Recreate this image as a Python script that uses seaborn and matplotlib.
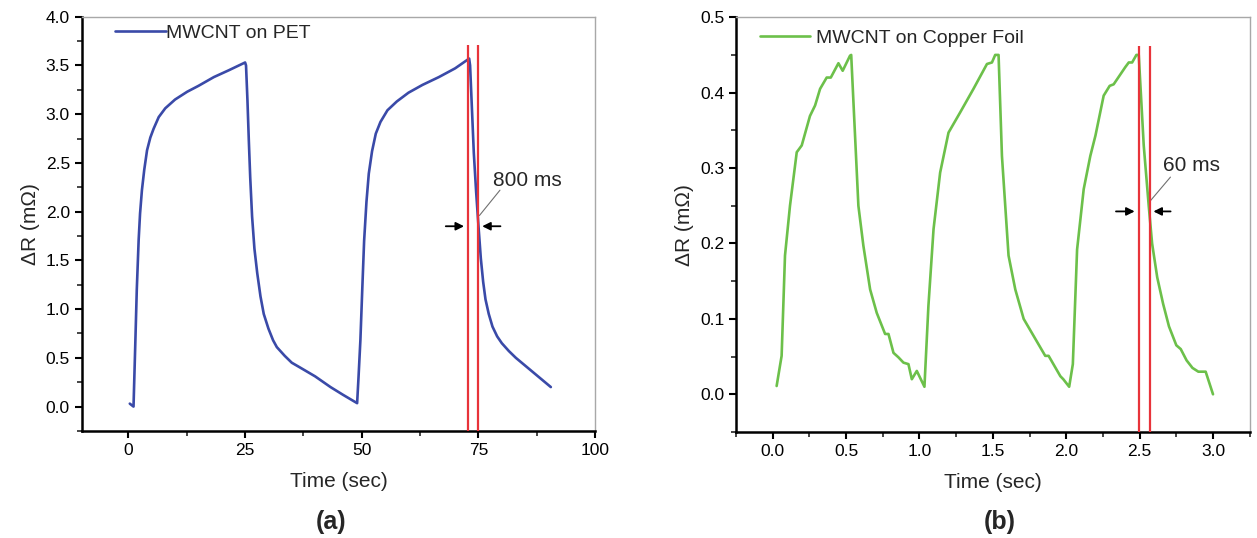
import numpy as np
import matplotlib
matplotlib.use('Agg')
import matplotlib.pyplot as plt
import seaborn as sns
from matplotlib.ticker import MultipleLocator, FormatStrFormatter

# 数据：从原图读取
time_pet = [0.3, 1.1, 1.5, 1.8, 2.2, 2.5, 2.9, 3.4, 4.0, 4.7, 5.4, 6.5, 7.9, 10.0, 12.6, 15.0, 18.3,
            21.5, 25.0, 25.2, 25.5, 25.8, 26.1, 26.5, 27.0, 27.6, 28.3, 29.0, 30.0, 31.0, 31.8, 33.5,
            35.0, 36.8, 40.0, 43.3, 46.0, 49.0, 49.3, 49.7, 50.1, 50.5, 51.0, 51.5, 52.2, 53.0, 54.0,
            55.5, 57.5, 60.0, 63.0, 66.5, 70.0, 73.0, 73.2, 73.6, 74.0, 74.5, 75.0, 75.5, 76.0, 76.5,
            77.2, 78.0, 79.0, 80.0, 81.5, 83.0, 84.5, 86.0, 88.0, 90.5]
dr_pet = [0.03, 0.0, 0.68, 1.20, 1.71, 1.98, 2.22, 2.43, 2.63, 2.76, 2.85, 2.97, 3.06, 3.15, 3.23, 3.29, 3.38,
          3.45, 3.53, 3.50, 3.15, 2.73, 2.35, 1.95, 1.62, 1.37, 1.13, 0.95, 0.80, 0.68, 0.61, 0.52,
          0.45, 0.40, 0.31, 0.20, 0.12, 0.035, 0.30, 0.68, 1.20, 1.70, 2.10, 2.39, 2.62, 2.80, 2.92,
          3.04, 3.13, 3.22, 3.30, 3.38, 3.47, 3.57, 3.50, 3.05, 2.60, 2.20, 1.85, 1.52, 1.28, 1.10,
          0.95, 0.82, 0.72, 0.65, 0.57, 0.50, 0.44, 0.38, 0.30, 0.20]

time_cu = [0.027, 0.061, 0.084, 0.118, 0.164, 0.198, 0.254, 0.289, 0.323, 0.368, 0.396, 0.448, 0.477,
           0.527, 0.535, 0.584, 0.618, 0.664, 0.709, 0.766, 0.789, 0.823, 0.857, 0.891, 0.925, 0.948,
           0.982, 1.034, 1.061, 1.096, 1.141, 1.198, 1.278, 1.368, 1.46, 1.494, 1.516, 1.539, 1.562,
           1.607, 1.653, 1.71, 1.857, 1.88, 1.96, 1.98, 2.02, 2.045, 2.074, 2.119, 2.164, 2.199, 2.255,
           2.296, 2.323, 2.403, 2.426, 2.449, 2.478, 2.494, 2.528, 2.562, 2.585, 2.62, 2.66, 2.70,
           2.75, 2.78, 2.82, 2.86, 2.90, 2.95, 3.0]
dr_cu = [0.011, 0.051, 0.184, 0.25, 0.321, 0.33, 0.369, 0.383, 0.405, 0.42, 0.42, 0.439, 0.429,
         0.449, 0.45, 0.25, 0.197, 0.139, 0.108, 0.08, 0.08, 0.055, 0.049, 0.042, 0.04, 0.02,
         0.031, 0.01, 0.117, 0.219, 0.294, 0.347, 0.374, 0.405, 0.438, 0.44, 0.45, 0.45, 0.316,
         0.184, 0.139, 0.10, 0.051, 0.051, 0.024, 0.02, 0.01, 0.04, 0.192, 0.272, 0.316, 0.343, 0.396,
         0.409, 0.411, 0.434, 0.44, 0.44, 0.45, 0.45, 0.33, 0.25, 0.20, 0.155, 0.12, 0.09,
         0.065, 0.06, 0.045, 0.035, 0.03, 0.03, 0.0]

sns.set_style('ticks')
plt.rcParams['font.family'] = ['Liberation Sans', 'DejaVu Sans']

fig = plt.figure(figsize=(12.57, 5.38), dpi=100)
ax1 = fig.add_axes([0.065, 0.199, 0.4085, 0.770])
ax2 = fig.add_axes([0.5855, 0.197, 0.4087, 0.771])


def style_axes(ax):
    for s in ['left', 'bottom']:
        ax.spines[s].set_color('black')
        ax.spines[s].set_linewidth(1.8)
    for s in ['top', 'right']:
        ax.spines[s].set_visible(True)
        ax.spines[s].set_color('#a8a8a8')
        ax.spines[s].set_linewidth(1.0)
    ax.tick_params(which='major', direction='out', length=5, width=1.5, labelsize=12.5,
                   top=False, right=False, colors='black')
    ax.tick_params(which='minor', direction='out', length=3.5, width=1.2, top=False, right=False)
    ax.set_xlabel('Time (sec)', fontsize=15, labelpad=10)
    ax.set_ylabel('ΔR (mΩ)', fontsize=15, labelpad=4)


# (a) MWCNT on PET
sns.lineplot(x=time_pet, y=dr_pet, ax=ax1, color='#3a4aa8', lw=1.9, sort=False, estimator=None,
             label='MWCNT on PET')
ax1.set_xlim(-10, 100)
ax1.set_ylim(-0.25, 4.0)
ax1.xaxis.set_major_locator(MultipleLocator(25))
ax1.xaxis.set_minor_locator(MultipleLocator(12.5))
ax1.yaxis.set_major_locator(MultipleLocator(0.5))
ax1.yaxis.set_minor_locator(MultipleLocator(0.25))
ax1.yaxis.set_major_formatter(FormatStrFormatter('%.1f'))
style_axes(ax1)
ax1.vlines([72.7, 75.0], -0.25, 3.71, colors='#e8333a', lw=1.6, zorder=3)
ax1.annotate('', xy=(72.5, 1.85), xytext=(67.4, 1.85),
             arrowprops=dict(arrowstyle='-|>', color='black', lw=1.3, mutation_scale=12))
ax1.annotate('', xy=(75.2, 1.85), xytext=(80.3, 1.85),
             arrowprops=dict(arrowstyle='-|>', color='black', lw=1.3, mutation_scale=12))
ax1.plot([75.2, 79.6], [1.96, 2.22], color='#707070', lw=0.8)
ax1.text(78.2, 2.32, '800 ms', fontsize=15, va='center', ha='left')
ax1.legend(loc='center left', bbox_to_anchor=(0.065, 0.961), frameon=False, fontsize=14,
           handlelength=2.6, handletextpad=0.0, borderpad=0, borderaxespad=0)

# (b) MWCNT on Copper Foil
sns.lineplot(x=time_cu, y=dr_cu, ax=ax2, color='#6cc04a', lw=1.9, sort=False, estimator=None,
             label='MWCNT on Copper Foil')
ax2.set_xlim(-0.25, 3.25)
ax2.set_ylim(-0.05, 0.5)
ax2.xaxis.set_major_locator(MultipleLocator(0.5))
ax2.xaxis.set_minor_locator(MultipleLocator(0.25))
ax2.yaxis.set_major_locator(MultipleLocator(0.1))
ax2.yaxis.set_minor_locator(MultipleLocator(0.05))
ax2.xaxis.set_major_formatter(FormatStrFormatter('%.1f'))
ax2.yaxis.set_major_formatter(FormatStrFormatter('%.1f'))
style_axes(ax2)
ax2.vlines([2.493, 2.568], -0.05, 0.462, colors='#e8333a', lw=1.6, zorder=3)
ax2.annotate('', xy=(2.485, 0.2425), xytext=(2.32, 0.2425),
             arrowprops=dict(arrowstyle='-|>', color='black', lw=1.3, mutation_scale=12))
ax2.annotate('', xy=(2.575, 0.2425), xytext=(2.73, 0.2425),
             arrowprops=dict(arrowstyle='-|>', color='black', lw=1.3, mutation_scale=12))
ax2.plot([2.575, 2.71], [0.257, 0.288], color='#707070', lw=0.8)
ax2.text(2.662, 0.303, '60 ms', fontsize=15, va='center', ha='left')
ax2.legend(loc='center left', bbox_to_anchor=(0.046, 0.949), frameon=False, fontsize=14,
           handlelength=2.6, handletextpad=0.3, borderpad=0, borderaxespad=0)

fig.text(0.2635, 0.03, '(a)', fontsize=18, fontweight='bold', ha='center', va='center')
fig.text(0.7955, 0.03, '(b)', fontsize=18, fontweight='bold', ha='center', va='center')

plt.savefig('out.png', dpi=100)
